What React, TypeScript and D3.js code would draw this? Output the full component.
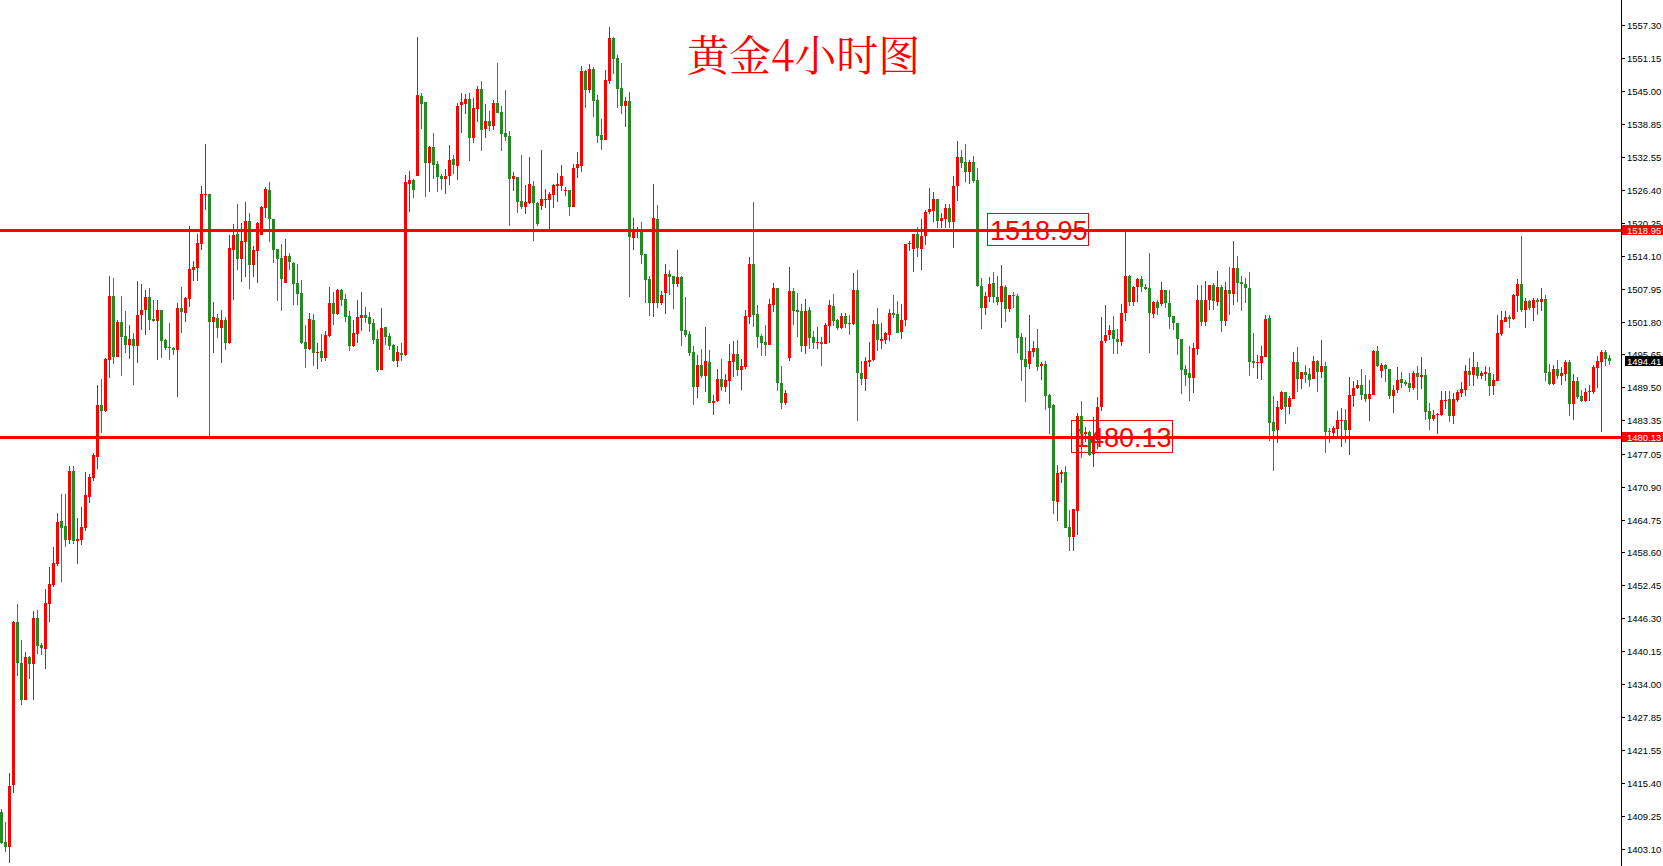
import React, { useRef, useEffect } from "react";
import * as d3 from "d3";

const WIDTH = 1663;
const HEIGHT = 866;

// 4h gold bars: open, high, low, close
const bars: [number, number, number, number][] = [
  [1410.0, 1410.6, 1404.0, 1404.3], [1404.4, 1408.2, 1402.5, 1403.5], [1403.5, 1417.3, 1400.4, 1414.9],
  [1415.1, 1445.8, 1413.5, 1445.5], [1445.5, 1449.0, 1435.4, 1438.0], [1438.0, 1442.2, 1430.1, 1430.9],
  [1430.9, 1440.0, 1430.9, 1439.0], [1439.0, 1439.3, 1434.9, 1437.8], [1437.8, 1447.7, 1430.9, 1446.3],
  [1446.3, 1447.8, 1439.6, 1441.0], [1441.2, 1441.7, 1439.4, 1440.8], [1440.5, 1451.8, 1436.7, 1449.1],
  [1448.9, 1455.9, 1445.5, 1452.7], [1452.5, 1459.6, 1452.2, 1456.6], [1456.5, 1465.9, 1456.1, 1464.3],
  [1464.5, 1469.5, 1453.0, 1463.1], [1463.6, 1469.5, 1459.7, 1461.0], [1461.0, 1474.8, 1460.1, 1473.8],
  [1473.8, 1474.8, 1460.1, 1460.8], [1460.8, 1465.0, 1456.5, 1461.1], [1461.0, 1467.1, 1459.9, 1463.4],
  [1463.2, 1473.7, 1462.7, 1469.4], [1469.0, 1473.3, 1467.9, 1472.7], [1472.6, 1477.2, 1472.0, 1476.8],
  [1476.5, 1489.9, 1474.3, 1486.2], [1486.2, 1491.1, 1481.0, 1485.1], [1485.1, 1495.0, 1484.8, 1494.8],
  [1494.6, 1510.3, 1491.3, 1506.6], [1506.6, 1510.0, 1493.9, 1495.2], [1495.2, 1502.1, 1495.2, 1501.7],
  [1501.7, 1506.6, 1491.6, 1499.0], [1499.1, 1503.8, 1495.9, 1497.5], [1497.5, 1501.2, 1494.8, 1498.6],
  [1498.6, 1499.7, 1489.9, 1497.3], [1497.3, 1509.4, 1494.1, 1503.0], [1503.0, 1508.8, 1500.2, 1504.0],
  [1504.0, 1507.7, 1499.2, 1506.4], [1506.4, 1508.1, 1500.2, 1502.1], [1502.3, 1505.8, 1501.7, 1501.9],
  [1501.9, 1505.8, 1494.6, 1504.0], [1504.0, 1504.0, 1495.0, 1498.2], [1498.4, 1498.6, 1496.5, 1496.9],
  [1497.1, 1501.5, 1494.6, 1496.9], [1496.9, 1497.1, 1495.5, 1496.5], [1496.5, 1505.3, 1487.7, 1504.3],
  [1504.3, 1508.3, 1499.7, 1503.6], [1503.4, 1506.4, 1501.7, 1506.2], [1506.0, 1519.7, 1504.5, 1511.6],
  [1511.5, 1513.1, 1509.4, 1512.0], [1511.8, 1518.2, 1509.4, 1516.5], [1516.3, 1527.2, 1515.2, 1525.7],
  [1525.5, 1535.0, 1522.7, 1525.7], [1525.7, 1525.7, 1480.4, 1501.7], [1501.7, 1505.5, 1495.9, 1502.7],
  [1502.5, 1503.2, 1498.7, 1500.6], [1500.6, 1504.0, 1494.1, 1502.1], [1502.1, 1502.7, 1496.5, 1497.8],
  [1497.8, 1518.0, 1497.6, 1515.6], [1515.2, 1520.1, 1505.8, 1518.0], [1518.2, 1523.8, 1511.5, 1513.5],
  [1513.5, 1520.3, 1509.2, 1516.9], [1516.7, 1524.2, 1510.1, 1520.6], [1520.6, 1522.1, 1507.9, 1512.4],
  [1512.4, 1516.0, 1510.1, 1515.2], [1515.0, 1520.5, 1509.0, 1520.2], [1518.0, 1523.5, 1518.0, 1523.2],
  [1523.1, 1527.0, 1521.2, 1526.6], [1526.4, 1527.9, 1516.7, 1521.0], [1521.0, 1521.0, 1512.8, 1515.2],
  [1515.4, 1515.4, 1505.7, 1513.5], [1513.7, 1516.3, 1503.8, 1509.8], [1509.0, 1517.2, 1509.0, 1514.1],
  [1514.1, 1514.6, 1511.5, 1513.0], [1512.8, 1513.0, 1504.9, 1508.9], [1509.0, 1512.6, 1504.9, 1507.0],
  [1507.1, 1509.6, 1497.6, 1497.8], [1498.0, 1501.2, 1493.1, 1496.7], [1496.7, 1503.4, 1496.5, 1502.3],
  [1502.1, 1503.2, 1493.5, 1495.9], [1495.9, 1497.8, 1492.9, 1496.1], [1496.3, 1499.5, 1494.2, 1495.0],
  [1495.0, 1500.1, 1494.4, 1499.3], [1499.1, 1508.3, 1498.9, 1505.3], [1505.3, 1507.3, 1501.2, 1503.2],
  [1503.2, 1507.9, 1503.0, 1507.7], [1507.7, 1507.9, 1504.7, 1505.8], [1506.0, 1507.0, 1501.7, 1502.7],
  [1502.9, 1503.8, 1496.3, 1497.2], [1497.2, 1502.1, 1497.0, 1499.7], [1499.5, 1505.8, 1497.8, 1502.7],
  [1502.5, 1507.3, 1500.1, 1503.0], [1503.0, 1504.5, 1501.5, 1502.5], [1502.7, 1503.6, 1499.9, 1501.4],
  [1501.5, 1502.3, 1497.6, 1498.4], [1498.6, 1500.2, 1492.4, 1492.7], [1492.7, 1504.3, 1492.7, 1500.6],
  [1500.8, 1500.8, 1497.5, 1498.9], [1499.1, 1499.7, 1496.5, 1497.2], [1497.4, 1497.6, 1494.2, 1494.4],
  [1494.4, 1497.2, 1493.3, 1496.1], [1496.0, 1497.8, 1494.4, 1495.6], [1495.6, 1529.2, 1495.4, 1527.9],
  [1527.6, 1530.0, 1522.3, 1528.3], [1528.3, 1528.5, 1524.9, 1526.4], [1529.1, 1555.1, 1529.1, 1544.2],
  [1544.0, 1544.6, 1537.8, 1542.5], [1542.9, 1542.9, 1525.1, 1531.5], [1531.5, 1534.7, 1526.1, 1534.5],
  [1534.5, 1537.1, 1528.5, 1531.1], [1531.3, 1531.9, 1526.1, 1528.9], [1529.1, 1529.4, 1526.4, 1528.5],
  [1528.5, 1530.4, 1525.7, 1529.1], [1529.1, 1534.9, 1527.4, 1532.0], [1532.2, 1533.0, 1529.4, 1531.1],
  [1530.9, 1542.7, 1528.3, 1542.1], [1542.3, 1544.6, 1537.1, 1542.9], [1542.5, 1544.4, 1540.6, 1543.5],
  [1543.5, 1544.6, 1531.9, 1536.2], [1536.2, 1543.6, 1535.2, 1541.8], [1541.6, 1545.9, 1539.2, 1545.3],
  [1545.3, 1546.8, 1533.7, 1537.7], [1537.8, 1542.5, 1536.2, 1539.3], [1539.3, 1541.2, 1537.5, 1538.4],
  [1538.4, 1543.3, 1537.7, 1542.7], [1542.7, 1550.2, 1540.8, 1540.8], [1541.0, 1542.1, 1533.7, 1536.9],
  [1537.1, 1545.1, 1535.6, 1536.4], [1536.5, 1537.5, 1519.7, 1528.5], [1528.5, 1529.8, 1526.2, 1529.1],
  [1528.9, 1528.9, 1522.1, 1524.2], [1524.4, 1533.0, 1522.9, 1523.2], [1523.2, 1527.4, 1521.9, 1524.2],
  [1524.0, 1532.6, 1523.8, 1527.6], [1527.2, 1528.1, 1516.9, 1524.0], [1524.0, 1524.2, 1519.7, 1520.1],
  [1523.4, 1533.9, 1522.7, 1524.7], [1524.6, 1526.6, 1523.1, 1524.7], [1524.6, 1526.1, 1519.1, 1525.7],
  [1525.5, 1527.6, 1523.1, 1527.4], [1527.2, 1529.6, 1524.2, 1527.6], [1527.2, 1531.1, 1526.2, 1529.1],
  [1526.2, 1527.0, 1525.3, 1526.4], [1526.4, 1526.4, 1521.6, 1523.2], [1523.2, 1531.3, 1523.2, 1530.6],
  [1530.6, 1533.5, 1528.7, 1531.3], [1531.0, 1549.6, 1529.8, 1548.7], [1548.7, 1548.9, 1541.8, 1545.1],
  [1545.1, 1550.0, 1544.6, 1549.1], [1549.1, 1549.5, 1540.1, 1543.1], [1543.3, 1544.2, 1535.2, 1536.5],
  [1536.7, 1539.7, 1533.9, 1535.8], [1535.8, 1548.9, 1535.8, 1547.0], [1546.8, 1556.9, 1546.3, 1554.9],
  [1554.9, 1555.1, 1548.1, 1550.9], [1551.1, 1551.7, 1541.8, 1545.3], [1545.5, 1550.2, 1540.6, 1542.1],
  [1542.1, 1543.8, 1538.2, 1543.1], [1543.1, 1544.8, 1506.4, 1517.6], [1517.4, 1521.2, 1515.2, 1518.6],
  [1518.6, 1519.5, 1517.4, 1518.8], [1518.6, 1520.4, 1512.6, 1514.3], [1514.5, 1514.5, 1505.3, 1509.6],
  [1509.8, 1510.3, 1502.8, 1505.3], [1505.3, 1527.6, 1502.7, 1521.2], [1521.0, 1523.6, 1504.3, 1505.3],
  [1505.3, 1507.6, 1504.9, 1506.8], [1507.1, 1512.6, 1503.2, 1510.7], [1510.7, 1511.5, 1506.8, 1510.1],
  [1510.3, 1510.3, 1504.1, 1508.8], [1508.8, 1515.2, 1508.3, 1510.1], [1510.1, 1510.3, 1497.2, 1500.0],
  [1500.2, 1506.4, 1498.9, 1499.3], [1499.5, 1500.0, 1495.4, 1495.9], [1496.1, 1497.2, 1486.2, 1489.6],
  [1489.6, 1495.6, 1487.5, 1493.7], [1493.7, 1496.7, 1491.2, 1491.6], [1491.6, 1500.8, 1488.6, 1494.4],
  [1494.2, 1496.5, 1486.6, 1486.6], [1486.6, 1488.1, 1484.3, 1487.0], [1487.0, 1492.9, 1486.8, 1491.1],
  [1491.1, 1494.8, 1488.8, 1489.6], [1489.6, 1492.0, 1488.6, 1490.9], [1490.7, 1497.6, 1486.4, 1494.4],
  [1494.2, 1498.2, 1491.4, 1495.7], [1495.7, 1498.4, 1491.6, 1492.7], [1492.7, 1494.8, 1489.0, 1493.5],
  [1493.3, 1504.0, 1492.9, 1502.8], [1502.7, 1513.9, 1501.4, 1512.6], [1512.6, 1524.2, 1500.8, 1503.0],
  [1503.2, 1504.9, 1496.9, 1498.9], [1499.1, 1499.5, 1495.4, 1497.8], [1498.0, 1501.2, 1495.4, 1497.4],
  [1497.4, 1506.0, 1497.4, 1505.1], [1504.9, 1509.0, 1503.6, 1508.1], [1508.1, 1508.1, 1488.8, 1490.3],
  [1490.3, 1493.5, 1485.5, 1486.6], [1486.6, 1489.0, 1486.2, 1488.4], [1495.0, 1512.0, 1494.4, 1507.5],
  [1507.5, 1508.1, 1501.2, 1503.8], [1504.0, 1507.2, 1498.9, 1503.6], [1503.8, 1505.1, 1496.1, 1497.2],
  [1497.2, 1506.0, 1495.7, 1503.8], [1504.0, 1504.5, 1496.7, 1498.7], [1498.9, 1500.0, 1496.7, 1497.8],
  [1497.8, 1500.8, 1496.7, 1498.0], [1498.0, 1498.9, 1493.5, 1497.6], [1497.6, 1501.5, 1497.6, 1501.2],
  [1501.0, 1505.8, 1497.8, 1504.9], [1504.7, 1507.0, 1501.0, 1501.9], [1502.1, 1502.3, 1500.2, 1500.6],
  [1500.6, 1503.4, 1500.4, 1502.9], [1502.9, 1503.4, 1500.6, 1501.4], [1501.6, 1503.0, 1499.3, 1501.4],
  [1501.4, 1510.9, 1501.2, 1507.7], [1507.7, 1511.5, 1483.2, 1492.2], [1492.2, 1494.4, 1490.0, 1491.1],
  [1491.1, 1495.2, 1488.8, 1494.4], [1494.2, 1498.0, 1493.3, 1494.6], [1494.6, 1502.1, 1494.4, 1501.4],
  [1501.4, 1504.3, 1496.3, 1498.4], [1498.2, 1501.5, 1496.7, 1498.6], [1498.4, 1499.9, 1497.6, 1499.7],
  [1499.3, 1504.1, 1498.2, 1503.4], [1503.4, 1506.8, 1502.5, 1503.0], [1503.2, 1505.6, 1499.7, 1499.7],
  [1499.9, 1505.1, 1498.6, 1502.1], [1502.1, 1516.3, 1501.0, 1516.3], [1516.3, 1516.9, 1515.0, 1516.5],
  [1515.4, 1518.2, 1511.1, 1518.2], [1518.2, 1519.5, 1513.9, 1515.6], [1515.4, 1521.0, 1511.5, 1517.8],
  [1517.8, 1522.7, 1516.1, 1522.3], [1522.3, 1526.8, 1521.9, 1522.9], [1522.5, 1526.1, 1520.4, 1524.7],
  [1524.7, 1524.7, 1519.3, 1520.6], [1520.6, 1522.1, 1519.3, 1521.2], [1521.0, 1523.8, 1519.3, 1523.1],
  [1523.1, 1523.8, 1519.3, 1520.4], [1520.4, 1529.1, 1515.6, 1527.2], [1527.2, 1535.6, 1524.4, 1532.6],
  [1532.6, 1533.9, 1530.5, 1531.5], [1531.7, 1535.0, 1527.9, 1529.8], [1529.8, 1532.0, 1527.6, 1531.7],
  [1531.7, 1532.8, 1527.8, 1528.1], [1528.3, 1530.5, 1508.3, 1508.5], [1508.5, 1510.0, 1500.4, 1504.3],
  [1504.3, 1507.3, 1503.0, 1506.6], [1506.4, 1510.1, 1505.5, 1508.8], [1509.0, 1511.1, 1505.3, 1506.4],
  [1506.4, 1510.3, 1504.9, 1505.5], [1505.5, 1512.4, 1500.6, 1508.5], [1508.3, 1508.7, 1501.7, 1504.2],
  [1504.2, 1506.8, 1503.6, 1506.8], [1506.8, 1507.3, 1504.3, 1506.6], [1506.6, 1507.0, 1495.9, 1498.7],
  [1498.9, 1499.7, 1490.7, 1494.6], [1494.8, 1498.9, 1486.8, 1493.3], [1493.9, 1503.0, 1492.9, 1496.3],
  [1496.1, 1498.2, 1495.2, 1496.9], [1496.9, 1500.4, 1492.6, 1493.3], [1493.4, 1494.2, 1490.9, 1493.9],
  [1493.9, 1494.4, 1485.3, 1487.9], [1488.1, 1488.3, 1480.8, 1485.7], [1486.1, 1486.3, 1465.8, 1468.3],
  [1468.1, 1475.0, 1464.4, 1473.5], [1473.3, 1474.1, 1471.6, 1473.7], [1473.7, 1474.8, 1463.2, 1463.2],
  [1463.4, 1466.5, 1458.9, 1461.4], [1461.4, 1466.7, 1458.9, 1466.7], [1466.4, 1484.7, 1461.9, 1484.1],
  [1484.1, 1487.0, 1476.3, 1480.8], [1480.8, 1482.1, 1479.3, 1481.1], [1481.2, 1481.4, 1476.7, 1476.9],
  [1477.0, 1483.9, 1474.5, 1480.3], [1479.6, 1487.7, 1478.0, 1485.8], [1485.8, 1502.7, 1485.0, 1498.2],
  [1498.2, 1504.9, 1497.8, 1499.3], [1499.3, 1501.2, 1498.4, 1500.3], [1500.3, 1502.8, 1495.7, 1498.6],
  [1498.6, 1500.5, 1495.7, 1497.9], [1497.9, 1505.1, 1497.2, 1503.4], [1503.4, 1518.8, 1502.0, 1510.3],
  [1510.3, 1510.5, 1504.7, 1505.5], [1505.5, 1508.5, 1504.7, 1508.3], [1508.3, 1510.0, 1505.5, 1509.8],
  [1509.8, 1510.3, 1507.3, 1508.3], [1508.3, 1508.8, 1507.7, 1507.9], [1508.1, 1514.6, 1495.9, 1503.4],
  [1503.2, 1505.7, 1502.5, 1505.5], [1505.5, 1505.8, 1503.0, 1504.3], [1505.1, 1509.2, 1504.7, 1507.7],
  [1507.7, 1507.7, 1504.3, 1505.3], [1505.3, 1507.7, 1500.4, 1502.7], [1502.9, 1502.9, 1500.2, 1501.5],
  [1501.6, 1501.6, 1495.6, 1498.6], [1498.6, 1498.6, 1488.3, 1492.7], [1492.9, 1493.7, 1489.7, 1491.8],
  [1492.1, 1497.2, 1487.0, 1491.2], [1491.2, 1497.8, 1488.4, 1496.9], [1496.7, 1508.6, 1495.6, 1505.8],
  [1505.8, 1508.6, 1501.0, 1501.7], [1501.7, 1509.4, 1501.0, 1505.8], [1505.8, 1508.6, 1504.0, 1508.6],
  [1508.6, 1509.0, 1504.0, 1505.6], [1505.5, 1511.3, 1504.7, 1508.3], [1508.3, 1508.6, 1499.9, 1501.9],
  [1501.9, 1509.2, 1501.0, 1507.7], [1507.7, 1512.0, 1503.0, 1507.0], [1507.0, 1516.9, 1504.9, 1511.8],
  [1511.8, 1514.1, 1505.5, 1509.0], [1509.2, 1510.3, 1503.8, 1508.8], [1508.9, 1510.0, 1505.3, 1508.1],
  [1508.1, 1511.1, 1491.6, 1494.2], [1494.4, 1499.7, 1493.1, 1494.0], [1494.0, 1495.6, 1491.1, 1494.2],
  [1494.0, 1497.2, 1490.9, 1495.4], [1495.2, 1503.0, 1495.2, 1502.3], [1502.5, 1503.0, 1479.5, 1482.8],
  [1483.0, 1487.9, 1473.8, 1481.3], [1481.5, 1487.0, 1479.1, 1485.8], [1485.4, 1488.8, 1485.2, 1488.6],
  [1488.6, 1488.6, 1482.6, 1485.8], [1485.8, 1487.9, 1484.5, 1487.5], [1487.3, 1496.1, 1487.3, 1494.2],
  [1494.2, 1497.1, 1488.6, 1491.1], [1491.1, 1492.4, 1489.2, 1492.4], [1492.4, 1493.7, 1490.3, 1491.8],
  [1492.0, 1493.1, 1489.6, 1490.9], [1491.1, 1495.4, 1491.1, 1494.4], [1494.4, 1494.6, 1488.6, 1492.4],
  [1492.4, 1498.4, 1491.3, 1493.5], [1493.5, 1494.2, 1477.2, 1481.1], [1481.3, 1481.9, 1479.1, 1481.1],
  [1481.0, 1482.3, 1480.2, 1481.9], [1481.7, 1485.1, 1480.0, 1483.4], [1483.2, 1485.6, 1478.3, 1483.4],
  [1483.4, 1485.4, 1479.1, 1481.5], [1481.5, 1491.4, 1476.9, 1488.1], [1487.9, 1490.7, 1485.8, 1489.4],
  [1489.4, 1490.9, 1489.2, 1490.0], [1490.0, 1492.9, 1487.1, 1488.1], [1488.3, 1491.8, 1486.8, 1487.3],
  [1487.3, 1490.9, 1483.2, 1488.3], [1488.1, 1496.5, 1488.1, 1496.3], [1496.3, 1497.2, 1493.3, 1493.5],
  [1492.5, 1494.1, 1491.3, 1493.7], [1493.7, 1493.9, 1490.5, 1492.9], [1492.9, 1493.0, 1487.3, 1487.9],
  [1487.9, 1490.0, 1484.7, 1489.0], [1489.0, 1493.3, 1488.4, 1490.9], [1491.1, 1492.4, 1489.4, 1490.3],
  [1490.5, 1490.9, 1489.7, 1490.1], [1490.3, 1492.2, 1488.6, 1489.4], [1489.4, 1492.6, 1489.0, 1492.2],
  [1492.2, 1493.5, 1487.1, 1491.4], [1491.4, 1495.2, 1489.2, 1491.8], [1491.8, 1492.9, 1483.4, 1484.9],
  [1485.1, 1486.6, 1481.5, 1483.6], [1483.6, 1485.3, 1483.2, 1484.3], [1484.3, 1484.7, 1480.8, 1484.5],
  [1484.3, 1488.8, 1484.1, 1487.1], [1486.9, 1488.8, 1485.4, 1487.1], [1487.3, 1488.8, 1483.0, 1484.1],
  [1484.1, 1488.4, 1482.6, 1487.3], [1487.1, 1489.0, 1486.8, 1488.6], [1488.4, 1490.5, 1487.7, 1489.2],
  [1489.0, 1493.7, 1487.9, 1492.6], [1492.6, 1495.0, 1489.8, 1491.8], [1491.8, 1496.1, 1489.8, 1493.3],
  [1493.3, 1494.2, 1491.1, 1491.6], [1491.6, 1492.6, 1491.1, 1492.2], [1492.0, 1493.5, 1490.7, 1492.4],
  [1492.2, 1493.3, 1487.9, 1489.8], [1489.8, 1492.0, 1488.1, 1490.9], [1490.7, 1503.0, 1490.7, 1499.7],
  [1499.5, 1503.8, 1499.1, 1502.1], [1501.7, 1503.8, 1501.7, 1502.7], [1502.7, 1503.0, 1500.6, 1502.3],
  [1502.3, 1507.0, 1502.1, 1506.8], [1506.6, 1509.8, 1503.6, 1508.8], [1508.8, 1517.8, 1503.6, 1504.0],
  [1504.0, 1506.2, 1500.6, 1505.7], [1505.7, 1505.8, 1504.0, 1504.3], [1504.3, 1506.2, 1501.9, 1505.8],
  [1505.8, 1506.2, 1503.0, 1505.5], [1505.5, 1508.1, 1503.8, 1506.0], [1506.0, 1506.8, 1490.7, 1492.2],
  [1492.4, 1493.9, 1489.9, 1490.1], [1490.1, 1493.7, 1489.9, 1492.9], [1492.9, 1494.6, 1491.1, 1491.6],
  [1491.6, 1493.3, 1489.9, 1492.2], [1492.0, 1494.6, 1490.7, 1494.2], [1494.2, 1494.6, 1484.1, 1486.4],
  [1486.4, 1492.0, 1483.4, 1490.7], [1490.7, 1491.4, 1487.3, 1487.7], [1487.9, 1489.0, 1486.8, 1486.9],
  [1486.9, 1489.4, 1486.8, 1488.6], [1488.6, 1490.0, 1486.9, 1488.8], [1488.6, 1493.7, 1488.3, 1493.3],
  [1493.1, 1495.4, 1489.4, 1494.4], [1494.2, 1496.5, 1481.1, 1496.1], [1496.1, 1496.5, 1493.5, 1494.8],
  [1495.0, 1495.6, 1493.7, 1494.41],
];

// price scale labels on the right
const priceTicks = [
  1557.3, 1551.15, 1545.0, 1538.85, 1532.55, 1526.4, 1520.25, 1514.1, 1507.95, 1501.8, 1495.65,
  1489.5, 1483.35, 1477.05, 1470.9, 1464.75, 1458.6, 1452.45, 1446.3, 1440.15, 1434.0, 1427.85,
  1421.55, 1415.4, 1409.25, 1403.1,
];

// horizontal support / resistance lines
const levels = [1518.95, 1480.13];
// text boxes tied to the levels, anchored at a bar index
const levelNotes = [
  { value: 1518.95, bar: 246.4 },
  { value: 1480.13, bar: 267.4 },
];
const lastPrice = 1494.41;
const title = "黄金4小时图";

const UP = "#ff0000";
const DOWN = "#228b22";
const AXIS_X = 1621;

export default function App() {
  const svgRef = useRef<SVGSVGElement>(null);

  useEffect(() => {
    if (!svgRef.current) return;
    const svg = d3.select(svgRef.current);
    svg.selectAll("*").remove();

    const x = d3
      .scaleLinear()
      .domain([0, bars.length - 1])
      .range([1.5, 1.5 + 4 * (bars.length - 1)]);
    const y = d3.scaleLinear().domain([1403.1, 1557.3]).range([849, 25]);

    svg.append("rect").attr("width", WIDTH).attr("height", HEIGHT).attr("fill", "#fff");

    // title
    svg
      .append("text")
      .attr("x", 687)
      .attr("y", 71)
      .attr("fill", UP)
      .style("font-family", "'Noto Serif CJK SC', 'Noto Sans CJK SC', serif")
      .style("font-size", "42px")
      .text(title);

    // level text boxes (drawn under the bars)
    const notes = svg
      .append("g")
      .selectAll("g")
      .data(levelNotes)
      .join("g")
      .attr("transform", (d) => `translate(${Math.round(x(d.bar))},${Math.round(y(d.value))})`);
    notes
      .append("rect")
      .attr("x", 0.5)
      .attr("y", -16.5)
      .attr("width", 101)
      .attr("height", 32)
      .attr("fill", "none")
      .attr("stroke", UP)
      .attr("stroke-width", 1);
    notes
      .append("text")
      .attr("x", 3)
      .attr("y", 10)
      .attr("fill", UP)
      .style("font-family", "'Liberation Sans', Arial, sans-serif")
      .style("font-size", "27px")
      .text((d) => d.value.toFixed(2));

    // candles
    const candles = svg
      .append("g")
      .attr("shape-rendering", "crispEdges")
      .selectAll("g")
      .data(bars)
      .join("g")
      .attr("fill", (d) => (d[3] >= d[0] ? UP : DOWN));
    candles
      .append("rect")
      .attr("x", (_, i) => x(i) - 0.5)
      .attr("y", (d) => Math.round(y(d[1])))
      .attr("width", 1)
      .attr("height", (d) => Math.max(1, Math.round(y(d[2])) - Math.round(y(d[1]))));
    candles
      .append("rect")
      .attr("x", (_, i) => x(i) - 1.5)
      .attr("y", (d) => Math.round(y(Math.max(d[0], d[3]))))
      .attr("width", 3)
      .attr("height", (d) =>
        Math.max(1, Math.round(y(Math.min(d[0], d[3]))) - Math.round(y(Math.max(d[0], d[3])))),
      );

    // level lines
    svg
      .append("g")
      .attr("shape-rendering", "crispEdges")
      .selectAll("rect")
      .data(levels)
      .join("rect")
      .attr("x", 0)
      .attr("y", (d) => Math.round(y(d)) - 1)
      .attr("width", AXIS_X)
      .attr("height", 3)
      .attr("fill", UP);

    // right price axis
    const axis = svg.append("g").attr("shape-rendering", "crispEdges");
    axis
      .append("line")
      .attr("x1", AXIS_X + 0.5)
      .attr("x2", AXIS_X + 0.5)
      .attr("y1", 0)
      .attr("y2", HEIGHT)
      .attr("stroke", "#000");
    const ticks = axis.selectAll("g.tick").data(priceTicks).join("g").attr("class", "tick");
    ticks
      .append("line")
      .attr("x1", AXIS_X)
      .attr("x2", AXIS_X + 4)
      .attr("y1", (d) => Math.round(y(d)) + 0.5)
      .attr("y2", (d) => Math.round(y(d)) + 0.5)
      .attr("stroke", "#000");
    ticks
      .append("text")
      .attr("x", AXIS_X + 6)
      .attr("y", (d) => Math.round(y(d)) + 4)
      .attr("fill", "#000")
      .style("font-family", "'Liberation Sans', Arial, sans-serif")
      .style("font-size", "9.5px")
      .text((d) => d.toFixed(2));

    // price tags on the axis
    const tags = [
      ...levels.map((v) => ({ value: v, bg: UP, x0: AXIS_X + 1 })),
      { value: lastPrice, bg: "#000", x0: AXIS_X + 4 },
    ];
    const tag = axis.selectAll("g.tag").data(tags).join("g").attr("class", "tag");
    tag
      .append("rect")
      .attr("x", (d) => d.x0)
      .attr("y", (d) => Math.round(y(d.value)) - 5)
      .attr("width", (d) => WIDTH - d.x0)
      .attr("height", 10)
      .attr("fill", (d) => d.bg);
    tag
      .append("text")
      .attr("x", AXIS_X + 6)
      .attr("y", (d) => Math.round(y(d.value)) + 4)
      .attr("fill", "#fff")
      .style("font-family", "'Liberation Sans', Arial, sans-serif")
      .style("font-size", "9.5px")
      .text((d) => d.value.toFixed(2));
  }, []);

  return (
    <svg
      ref={svgRef}
      width={WIDTH}
      height={HEIGHT}
      style={{ position: "absolute", left: 0, top: 0, display: "block" }}
    />
  );
}
